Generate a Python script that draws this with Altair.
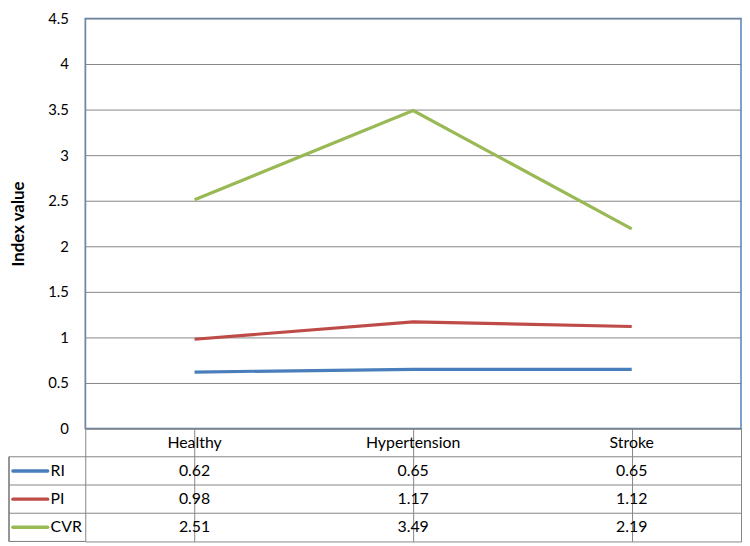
import altair as alt
import pandas as pd

categories = ["Healthy", "Hypertension", "Stroke"]
series = ["RI", "PI", "CVR"]
ri = [0.62, 0.65, 0.65]
pi = [0.98, 1.17, 1.12]
cvr = [2.51, 3.49, 2.19]
colors = ["#4A7EBB", "#BE4B48", "#98B954"]
y_ticks = [0, 0.5, 1, 1.5, 2, 2.5, 3, 3.5, 4, 4.5]

values = {"RI": ri, "PI": pi, "CVR": cvr}
rows = []
for s in series:
    for c, v in zip(categories, values[s]):
        rows.append({"category": c, "series": s, "value": v, "label": f"{v:.2f}"})
df = pd.DataFrame(rows)

W = 662
H_TOP = 414
H_TAB = 114
FONT = "Lato"
GRID = "#868686"
FS = 16

# ---------- line chart ----------
line = alt.Chart(df).mark_line(strokeWidth=3.2).encode(
    x=alt.X("category:N", sort=categories,
            scale=alt.Scale(type="point", domain=categories, padding=0.5), axis=None),
    y=alt.Y("value:Q", scale=alt.Scale(domain=[0, 4.5], nice=False),
            axis=alt.Axis(values=y_ticks, format=".1~f", title="Index value",
                          grid=True, gridColor=GRID, domainColor=GRID, ticks=False,
                          labelPadding=17, labelFontSize=15, labelFont=FONT,
                          labelColor="black", titleFont=FONT, titleFontSize=17,
                          titleFontWeight="bold", titleColor="black",
                          titleX=-67, titleBaseline="middle")),
    color=alt.Color("series:N", scale=alt.Scale(domain=series, range=colors), legend=None),
).properties(width=W, height=H_TOP,
             view=alt.ViewBackground(stroke="#4F81BD", strokeWidth=1.5))

# ---------- data table ----------
tab_rows = [{"category": c, "row": "hdr", "label": c} for c in categories]
tab_rows += [{"category": r["category"], "row": r["series"], "label": r["label"]} for r in rows]
tab_df = pd.DataFrame(tab_rows)
row_order = ["hdr"] + series
legend_df = pd.DataFrame({"row": series})

yscale = alt.Scale(domain=row_order, paddingInner=0, paddingOuter=0)

def ydef(bp=0.5):
    return alt.Y("row:N", sort=row_order, scale=yscale, axis=None, bandPosition=bp)

cells = alt.Chart(tab_df).mark_text(font=FONT, fontSize=FS, color="black").encode(
    x=alt.X("category:N", sort=categories,
            scale=alt.Scale(domain=categories, paddingInner=0, paddingOuter=0),
            axis=alt.Axis(grid=True, bandPosition=0, gridColor=GRID, labels=False,
                          ticks=False, domain=False, title=None)),
    y=ydef(),
    text="label:N",
)

hlines = alt.Chart(legend_df).mark_rule(color=GRID).encode(
    y=ydef(0), x=alt.value(-77), x2=alt.value(W)
)
bottom_ext = alt.Chart(legend_df).mark_rule(color=GRID).encode(
    y=alt.value(H_TAB), x=alt.value(-77), x2=alt.value(0)
)
left_border = alt.Chart(legend_df).mark_rule(color=GRID).encode(
    x=alt.value(-77), y=alt.value(H_TAB / 4), y2=alt.value(H_TAB)
)
keys = alt.Chart(legend_df).mark_rule(strokeWidth=3.5, strokeCap="round").encode(
    y=ydef(), x=alt.value(-73), x2=alt.value(-38),
    color=alt.Color("row:N", scale=alt.Scale(domain=series, range=colors), legend=None),
)
key_text = alt.Chart(legend_df).mark_text(align="left", font=FONT, fontSize=FS,
                                          color="black").encode(
    y=ydef(), x=alt.value(-35), text="row:N"
)

table = alt.layer(cells, hlines, bottom_ext, left_border, keys, key_text).properties(
    width=W, height=H_TAB, view=alt.ViewBackground(stroke=GRID, strokeWidth=1)
)

chart = alt.vconcat(line, table, spacing=0, bounds="flush").properties(
    padding={"left": 0, "top": 0, "right": 0, "bottom": 0}
).configure(font=FONT, background="white")

chart.save("out.html", embed_options={"renderer": "svg", "actions": False})
